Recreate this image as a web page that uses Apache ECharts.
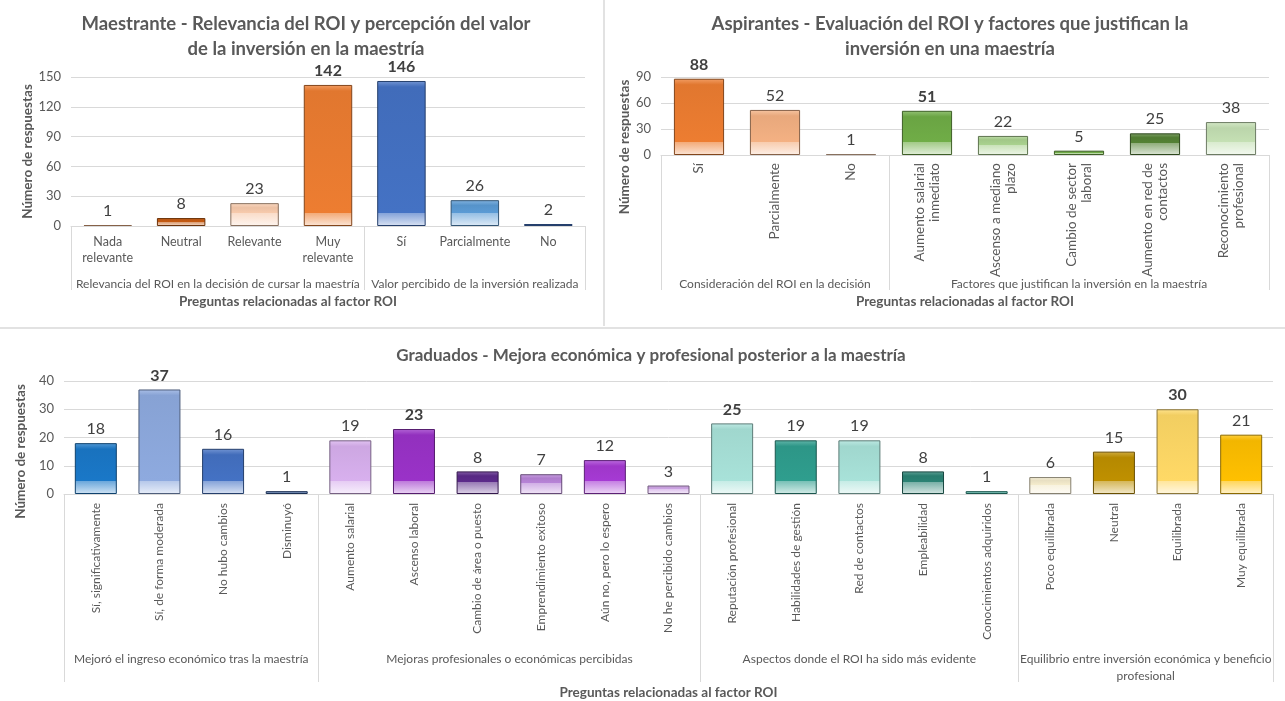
<!DOCTYPE html>
<html><head><meta charset="utf-8">
<script src="https://cdn.jsdelivr.net/npm/echarts@6/dist/echarts.min.js"></script>
<style>html,body{margin:0;padding:0;background:#fff}#c{width:1285px;height:701px}</style>
</head><body><div id="c"></div>
<script>
// ---------- Chart 1: Maestrante ----------
const c1Title = 'Maestrante - Relevancia del ROI y percepción del valor\nde la inversión en la maestría';
const c1Categories = ['Nada\nrelevante', 'Neutral', 'Relevante', 'Muy\nrelevante', 'Sí', 'Parcialmente', 'No'];
const c1Values = [1, 8, 23, 142, 146, 26, 2];
const c1Groups = ['Relevancia del ROI en la decisión de cursar la maestría', 'Valor percibido de la inversión realizada'];
const c1GroupSizes = [4, 3];
const c1YTicks = [0, 30, 60, 90, 120, 150];
const c1Colors = ['#f4b183', '#c55a11', '#f8cbad', '#ed7d31', '#4472c4', '#5b9bd5', '#4472c4'];

// ---------- Chart 2: Aspirantes ----------
const c2Title = 'Aspirantes - Evaluación del ROI y factores que justifican la\ninversión en una maestría';
const c2Categories = ['Sí', 'Parcialmente', 'No', 'Aumento salarial\ninmediato', 'Ascenso a mediano\nplazo', 'Cambio de sector\nlaboral', 'Aumento en red de\ncontactos', 'Reconocimiento\nprofesional'];
const c2Values = [88, 52, 1, 51, 22, 5, 25, 38];
const c2Groups = ['Consideración del ROI en la decisión', 'Factores que justifican la inversión en la maestría'];
const c2GroupSizes = [3, 5];
const c2YTicks = [0, 30, 60, 90];
const c2Colors = ['#ed7d31', '#f4b183', '#f8cbad', '#70ad47', '#a9d18e', '#70ad47', '#548235', '#c5e0b4'];

// ---------- Chart 3: Graduados ----------
const c3Title = 'Graduados - Mejora económica y profesional posterior a la maestría';
const c3Categories = ['Sí, significativamente', 'Sí, de forma moderada', 'No hubo cambios', 'Disminuyó',
  'Aumento salarial', 'Ascenso laboral', 'Cambio de área o puesto', 'Emprendimiento exitoso', 'Aún no, pero lo espero', 'No he percibido cambios',
  'Reputación profesional', 'Habilidades de gestión', 'Red de contactos', 'Empleabilidad', 'Conocimientos adquiridos',
  'Poco equilibrada', 'Neutral', 'Equilibrada', 'Muy equilibrada'];
const c3Values = [18, 37, 16, 1, 19, 23, 8, 7, 12, 3, 25, 19, 19, 8, 1, 6, 15, 30, 21];
const c3Groups = ['Mejoró el ingreso económico tras la maestría', 'Mejoras profesionales o económicas percibidas',
  'Aspectos donde el ROI ha sido más evidente', 'Equilibrio entre inversión económica y beneficio\nprofesional'];
const c3GroupSizes = [4, 6, 5, 4];
const c3YTicks = [0, 10, 20, 30, 40];
const c3Colors = ['#1a78c8', '#8eaadf', '#4472c4', '#2f5597',
  '#d8b0ee', '#9a32c8', '#5c2a8a', '#b884d8', '#a63ad4', '#cfa6e6',
  '#a8e2d9', '#2f9e8e', '#a8e2d9', '#2b8274', '#2f9e8e',
  '#f4ebcc', '#bf9000', '#ffd966', '#ffc000'];

const yAxisName = 'Número de respuestas';
const xAxisName = 'Preguntas relacionadas al factor ROI';

// ---------- styling helpers ----------
const FONT = 'Lato, "Noto Sans", sans-serif';
const TXT = '#595959';
const GRIDC = '#d9d9d9';

function mix(hex, t, target) {
  const n = parseInt(hex.slice(1), 16);
  const r = (n >> 16) & 255, g = (n >> 8) & 255, b = n & 255;
  const f = c => Math.round(c + (target - c) * t);
  return 'rgb(' + f(r) + ',' + f(g) + ',' + f(b) + ')';
}
function bevelFill(base, value, axisMax, plotH) {
  const h = Math.max(value / axisMax * plotH, 1);
  const bb = Math.min(13 / h, 0.55);
  const tb = Math.min(6 / h, 0.2);
  return {
    type: 'linear', x: 0, y: 0, x2: 0, y2: 1,
    colorStops: [
      { offset: 0, color: mix(base, 0.25, 255) },
      { offset: tb, color: mix(base, 0.05, 0) },
      { offset: Math.max(tb, 1 - bb), color: base },
      { offset: Math.min(1, Math.max(tb, 1 - bb) + 0.001), color: mix(base, 0.35, 255) },
      { offset: 1, color: mix(base, 0.8, 255) }
    ]
  };
}

const panels = [
  { title: c1Title, titleX: 301, titleY: 7, titleSize: 18.5, cats: c1Categories, vals: c1Values, groups: c1Groups, sizes: c1GroupSizes,
    ticks: c1YTicks, colors: c1Colors, grid: { left: 71, top: 77, width: 514, height: 149 },
    rotate: 0, catSize: 12.5, catLH: 16, catMargin: 8, groupMargin: 50, tickLen: 64, nameGap: 69, namePad: [0, 80, 0, 0], yNameGap: 34, yNamePad: [0, 0, 0, 0] },
  { title: c2Title, titleX: 945, titleY: 7, titleSize: 18.5, cats: c2Categories, vals: c2Values, groups: c2Groups, sizes: c2GroupSizes,
    ticks: c2YTicks, colors: c2Colors, grid: { left: 661, top: 77, width: 608, height: 78 },
    rotate: 90, catSize: 13.5, catLH: 15, catMargin: 8, groupMargin: 121, tickLen: 135, nameGap: 140, namePad: [0, 0, 0, 0], yNameGap: 22, yNamePad: [0, 62, 0, 0] },
  { title: c3Title, titleX: 646, titleY: 338, titleSize: 17, cats: c3Categories, vals: c3Values, groups: c3Groups, sizes: c3GroupSizes,
    ticks: c3YTicks, colors: c3Colors, grid: { left: 64, top: 381, width: 1209, height: 113 },
    rotate: 90, catSize: 12, catLH: 14, catMargin: 9, groupMargin: 157, tickLen: 188, nameGap: 191, namePad: [0, 0, 0, 0], yNameGap: 27, yNamePad: [0, 28, 0, 0] }
];

const option = {
  backgroundColor: '#fff',
  animation: false,
  textStyle: { fontFamily: FONT },
  title: [], grid: [], xAxis: [], yAxis: [], series: [],
  graphic: [
    { type: 'line', shape: { x1: 604, y1: 0, x2: 604, y2: 326 }, style: { stroke: GRIDC, lineWidth: 1.5 }, silent: true },
    { type: 'line', shape: { x1: 0, y1: 328, x2: 1285, y2: 328 }, style: { stroke: GRIDC, lineWidth: 1.5 }, silent: true }
  ]
};

panels.forEach((p, i) => {
  const n = p.cats.length;
  const ymax = p.ticks[p.ticks.length - 1];
  const interval = p.ticks[1] - p.ticks[0];
  const bounds = [0]; const centers = []; const names = {};
  let acc = 0;
  p.sizes.forEach((s, k) => { centers.push(acc + s / 2); names[(acc + s / 2).toFixed(2)] = p.groups[k]; acc += s; bounds.push(acc); });
  const groupOf = []; p.sizes.forEach((s, k) => { for (let j = 0; j < s; j++) groupOf.push(k); });
  const gmax = p.sizes.map((s, k) => Math.max(...p.vals.filter((v, j) => groupOf[j] === k)));

  option.title.push({
    text: p.title, left: p.titleX, top: p.titleY, textAlign: 'center',
    textStyle: { fontFamily: FONT, fontSize: p.titleSize, fontWeight: 'bold', color: TXT, lineHeight: 25 }
  });
  option.grid.push(Object.assign({ containLabel: false }, p.grid));
  option.xAxis.push({
    type: 'category', gridIndex: i, data: p.cats, position: 'bottom',
    axisLine: { show: true, lineStyle: { color: GRIDC } },
    axisTick: { show: false },
    axisLabel: { interval: 0, rotate: p.rotate, margin: p.catMargin, color: TXT, fontFamily: FONT,
      fontSize: p.catSize, lineHeight: p.catLH }
  });
  option.xAxis.push({
    type: 'value', gridIndex: i, position: 'bottom', min: 0, max: n,
    axisLine: { show: false }, splitLine: { show: false },
    axisTick: { show: true, customValues: bounds, length: p.tickLen, lineStyle: { color: GRIDC, width: 1 } },
    axisLabel: { customValues: centers, margin: p.groupMargin, color: TXT, fontFamily: FONT, fontSize: 12, lineHeight: 17,
      formatter: v => names[Number(v).toFixed(2)] || '' },
    name: xAxisName, nameLocation: 'middle', nameGap: p.nameGap,
    nameTextStyle: { fontFamily: FONT, fontSize: 13.5, fontWeight: 'bold', color: TXT, padding: p.namePad }
  });
  option.yAxis.push({
    type: 'value', gridIndex: i, min: 0, max: ymax, interval: interval,
    axisLine: { show: false }, axisTick: { show: false },
    splitLine: { lineStyle: { color: GRIDC, width: 1 } },
    axisLabel: { color: TXT, fontFamily: FONT, fontSize: 13, margin: 10 },
    name: yAxisName, nameLocation: 'middle', nameRotate: 90, nameGap: p.yNameGap,
    nameTextStyle: { fontFamily: FONT, fontSize: 13.5, fontWeight: 'bold', color: TXT, padding: p.yNamePad }
  });
  option.series.push({
    type: 'bar', xAxisIndex: 2 * i, yAxisIndex: i, barWidth: '66%',
    data: p.vals.map((v, j) => ({
      value: v,
      itemStyle: { color: bevelFill(p.colors[j], v, ymax, p.grid.height), borderColor: mix(p.colors[j], 0.45, 0), borderWidth: 1 },
      label: { fontWeight: v === gmax[groupOf[j]] ? 'bold' : 'normal' }
    })),
    label: { show: true, position: 'top', distance: 6, color: '#404040', fontFamily: FONT, fontSize: 16 }
  });
});

const chart = echarts.init(document.getElementById('c'));
chart.setOption(option);
</script>
</body></html>
